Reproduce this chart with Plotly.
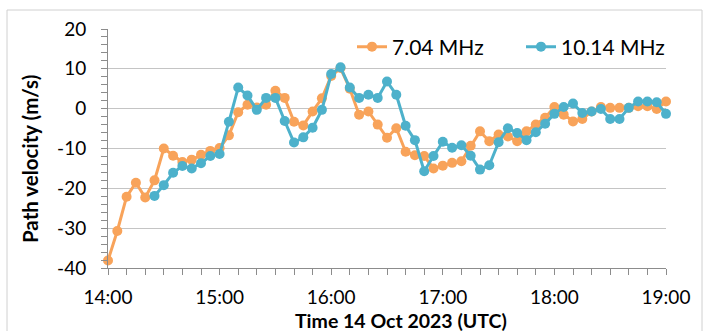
import pandas as pd
import plotly.graph_objects as go

# Sample times: every 5 minutes from 14:00 to 19:00 UTC
times = pd.date_range("2023-10-14 14:00", "2023-10-14 19:00", freq="5min")

# Path velocity (m/s) at 7.04 MHz, 14:00 .. 19:00
v704 = [-38.1, -30.7, -22.1, -18.6, -22.3, -18.0, -10.0, -11.8, -13.4, -12.8,
        -11.6, -10.6, -9.9, -6.7, -0.9, 1.0, 0.3, 1.0, 4.5, 2.7,
        -3.3, -4.2, -0.7, 2.6, 8.2, 10.2, 5.0, -1.5, -0.7, -4.0,
        -7.3, -4.9, -10.8, -11.7, -11.9, -15.0, -14.3, -13.6, -13.2, -9.3,
        -5.7, -8.2, -6.5, -7.0, -8.2, -5.7, -4.0, -2.3, 0.4, -1.5,
        -3.2, -2.6, -0.7, 0.4, 0.2, 0.2, 0.2, 0.6, 0.6, -0.1,
        1.8]

# Path velocity (m/s) at 10.14 MHz, 14:25 .. 19:00
v1014_start = 5
v1014 = [-21.9, -19.2, -16.1, -14.4, -15.0,
         -13.7, -11.9, -11.4, -3.3, 5.3, 3.3, -0.3, 2.7, 2.7, -3.1,
         -8.5, -7.2, -4.8, -0.3, 8.7, 10.4, 5.3, 2.7, 3.5, 2.7,
         6.8, 3.5, -4.3, -7.9, -15.7, -11.9, -8.3, -9.8, -9.2, -11.8,
         -15.3, -14.2, -8.4, -4.9, -6.1, -7.9, -5.9, -3.8, -1.3, 0.4,
         1.3, -1.1, -0.7, -0.1, -2.6, -2.6, 0.2, 1.8, 1.8, 1.6,
         -1.3]

y_ticks = [20, 10, 0, -10, -20, -30, -40]
x_tick_hours = ["14:00", "15:00", "16:00", "17:00", "18:00", "19:00"]

ORANGE = "#F8A35A"
BLUE = "#4DB1CB"
FONT = "Lato"

W, H = 708, 331
L, R, T, B = 108, 42, 29, 63
pw, ph = W - L - R, H - T - B


def px_x(p):
    return (p - L) / pw


def px_y(p):
    return (H - B - p) / ph


fig = go.Figure()
fig.add_trace(go.Scatter(
    x=times, y=v704, name="7.04 MHz", mode="lines+markers",
    line=dict(color=ORANGE, width=3),
    marker=dict(color=ORANGE, size=10),
    cliponaxis=False,
))
fig.add_trace(go.Scatter(
    x=times[v1014_start:], y=v1014, name="10.14 MHz", mode="lines+markers",
    line=dict(color=BLUE, width=3),
    marker=dict(color=BLUE, size=10),
    cliponaxis=False,
))

x_tickvals = [pd.Timestamp("2023-10-14 " + h) for h in x_tick_hours]

fig.update_layout(
    width=W, height=H,
    margin=dict(l=L, r=R, t=T, b=B),
    paper_bgcolor="white", plot_bgcolor="white",
    font=dict(family=FONT, size=19, color="#000000"),
    showlegend=True,
    legend=dict(
        orientation="h", x=px_x(352), xanchor="left",
        y=px_y(47), yanchor="middle",
        bgcolor="rgba(0,0,0,0)", font=dict(size=21),
        itemwidth=30, tracegroupgap=0,
        entrywidth=124,
    ),
    xaxis=dict(
        range=[times[0], times[-1]],
        tickvals=x_tickvals, ticktext=x_tick_hours,
        showgrid=False, zeroline=False,
        showline=True, linecolor="#8c8c8c", linewidth=1,
        ticks="outside", ticklen=6, tickcolor="#8c8c8c",
        ticklabelstandoff=6,
        minor=dict(dtick=600000, ticks="outside", ticklen=6,
                   tickcolor="#8c8c8c", showgrid=False),
    ),
    yaxis=dict(
        range=[-40, 20],
        tickvals=y_ticks, ticktext=[str(v) for v in y_ticks],
        showgrid=True, gridcolor="#c4c4c4", gridwidth=1,
        zeroline=False,
        showline=True, linecolor="#8c8c8c", linewidth=1,
        ticks="outside", ticklen=6, tickcolor="#8c8c8c",
        ticklabelstandoff=11,
        minor=dict(dtick=2, ticks="outside", ticklen=6,
                   tickcolor="#8c8c8c", showgrid=False),
    ),
    annotations=[
        dict(text="<b>Time 14 Oct 2023 (UTC)</b>", xref="paper", yref="paper",
             x=px_x(401), y=px_y(320), xanchor="center", yanchor="middle",
             showarrow=False, font=dict(size=19.5)),
        dict(text="<b>Path velocity (m/s)</b>", xref="paper", yref="paper",
             x=px_x(30), y=px_y(159), xanchor="center", yanchor="middle",
             textangle=-90, showarrow=False, font=dict(size=20.5)),
    ],
    shapes=[
        dict(type="rect", xref="paper", yref="paper",
             x0=px_x(7), x1=px_x(702), y0=px_y(340), y1=px_y(10),
             line=dict(color="#d0d0d0", width=1), fillcolor="rgba(0,0,0,0)",
             layer="below"),
    ],
)

fig.write_html("out.html")
